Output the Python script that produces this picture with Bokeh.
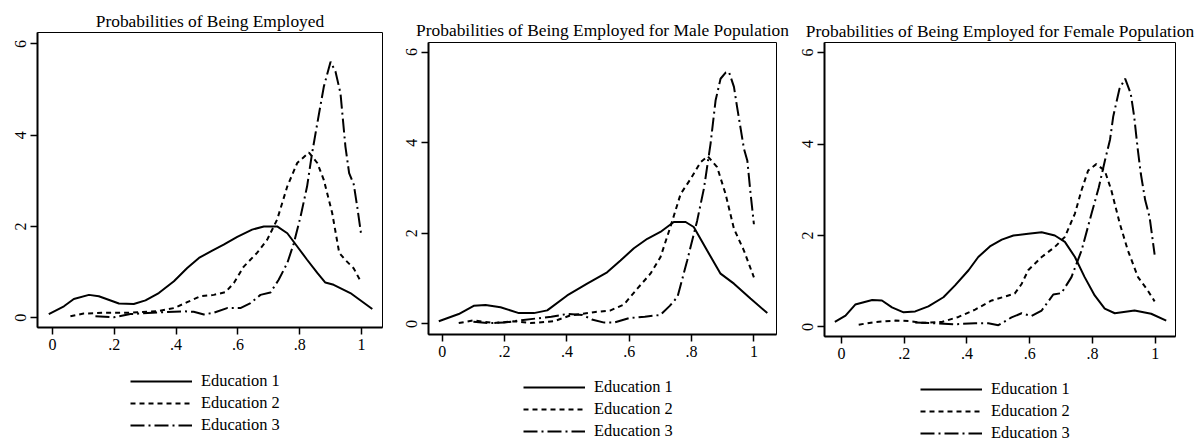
from bokeh.plotting import figure
from bokeh.layouts import row, column
from bokeh.models import FixedTicker, Legend, LegendItem, Range1d
from bokeh.embed import file_html
from bokeh.resources import INLINE

FONT = "Liberation Serif"

# ---------------- data ----------------
x_ticks = [0, 0.2, 0.4, 0.6, 0.8, 1]
x_tick_labels = ["0", ".2", ".4", ".6", ".8", "1"]
y_ticks = [0, 2, 4, 6]
y_tick_labels = ["0", "2", "4", "6"]
series_labels = ["Education 1", "Education 2", "Education 3"]
titles = ["Probabilities of Being Employed",
          "Probabilities of Being Employed for Male Population",
          "Probabilities of Being Employed for Female Population"]

# Panel 1: all
all_e1_x = [-0.012, 0.037, 0.069, 0.118, 0.150, 0.215, 0.263, 0.301, 0.344, 0.393, 0.436, 0.474, 0.517,
            0.554, 0.598, 0.646, 0.684, 0.727, 0.760, 0.792, 0.824, 0.857, 0.883, 0.910, 0.964, 1.035]
all_e1_y = [0.08, 0.25, 0.41, 0.50, 0.47, 0.31, 0.30, 0.38, 0.54, 0.80, 1.09, 1.31, 1.47,
            1.60, 1.77, 1.93, 2.00, 2.00, 1.85, 1.56, 1.27, 0.98, 0.77, 0.72, 0.54, 0.19]
all_e2_x = [0.058, 0.101, 0.166, 0.252, 0.339, 0.393, 0.436, 0.479, 0.522, 0.560, 0.587, 0.619, 0.662,
            0.695, 0.727, 0.760, 0.792, 0.830, 0.857, 0.878, 0.905, 0.928, 0.950, 0.975, 0.997]
all_e2_y = [0.03, 0.09, 0.11, 0.11, 0.14, 0.21, 0.34, 0.47, 0.50, 0.56, 0.76, 1.12, 1.42,
            1.71, 2.15, 2.88, 3.39, 3.62, 3.39, 3.02, 2.30, 1.42, 1.25, 1.08, 0.80]
all_e3_x = [0.139, 0.198, 0.252, 0.360, 0.425, 0.457, 0.490, 0.522, 0.565, 0.608, 0.641, 0.673, 0.705,
            0.732, 0.760, 0.781, 0.803, 0.824, 0.840, 0.857, 0.878, 0.900, 0.916, 0.932, 0.948, 0.960,
            0.975, 0.986, 0.999]
all_e3_y = [0.03, 0.01, 0.08, 0.12, 0.14, 0.13, 0.07, 0.11, 0.21, 0.21, 0.32, 0.50, 0.55,
            0.83, 1.20, 1.63, 2.22, 2.88, 3.60, 4.26, 5.06, 5.61, 5.39, 4.92, 3.75, 3.17,
            2.92, 2.44, 1.82]

# Panel 2: male
male_e1_x = [-0.011, 0.053, 0.101, 0.139, 0.187, 0.246, 0.294, 0.337, 0.401, 0.465, 0.529, 0.572,
             0.615, 0.658, 0.700, 0.743, 0.781, 0.807, 0.850, 0.893, 0.936, 0.989, 1.043]
male_e1_y = [0.06, 0.22, 0.40, 0.42, 0.37, 0.24, 0.24, 0.30, 0.63, 0.89, 1.14, 1.40,
             1.67, 1.88, 2.03, 2.25, 2.25, 2.14, 1.62, 1.11, 0.89, 0.56, 0.24]
male_e2_x = [0.053, 0.101, 0.166, 0.230, 0.283, 0.358, 0.412, 0.486, 0.540, 0.583, 0.626, 0.668,
             0.700, 0.732, 0.765, 0.797, 0.829, 0.852, 0.882, 0.909, 0.936, 0.968, 1.000]
male_e2_y = [0.02, 0.08, 0.02, 0.06, 0.02, 0.06, 0.19, 0.26, 0.30, 0.43, 0.78, 1.11,
             1.47, 2.14, 2.87, 3.20, 3.57, 3.70, 3.46, 2.87, 2.10, 1.62, 1.03]
male_e3_x = [0.100, 0.150, 0.200, 0.250, 0.300, 0.350, 0.400, 0.450, 0.480, 0.520, 0.550, 0.600,
             0.650, 0.700, 0.730, 0.755, 0.786, 0.818, 0.840, 0.861, 0.877, 0.893, 0.910, 0.920,
             0.936, 0.946, 0.968, 0.979, 0.989, 1.000]
male_e3_y = [0.05, 0.02, 0.03, 0.08, 0.12, 0.16, 0.22, 0.20, 0.10, 0.03, 0.03, 0.13,
             0.16, 0.20, 0.40, 0.60, 1.40, 2.28, 3.00, 3.98, 4.93, 5.41, 5.55, 5.56,
             5.23, 4.79, 3.87, 3.60, 2.90, 2.20]

# Panel 3: female
fem_e1_x = [-0.021, 0.013, 0.044, 0.098, 0.129, 0.161, 0.198, 0.235, 0.277, 0.325, 0.362, 0.405,
            0.436, 0.473, 0.511, 0.548, 0.595, 0.638, 0.680, 0.712, 0.744, 0.775, 0.807, 0.839,
            0.871, 0.934, 0.987, 1.035]
fem_e1_y = [0.11, 0.25, 0.49, 0.59, 0.58, 0.43, 0.32, 0.34, 0.45, 0.65, 0.91, 1.24,
            1.53, 1.76, 1.91, 2.00, 2.04, 2.07, 2.00, 1.86, 1.53, 1.09, 0.69, 0.40,
            0.30, 0.36, 0.29, 0.14]
fem_e2_x = [0.055, 0.108, 0.172, 0.214, 0.256, 0.320, 0.373, 0.426, 0.479, 0.552, 0.574, 0.595,
            0.638, 0.680, 0.712, 0.744, 0.765, 0.786, 0.812, 0.839, 0.860, 0.887, 0.913, 0.945,
            0.976, 0.998]
fem_e2_y = [0.05, 0.11, 0.14, 0.13, 0.09, 0.11, 0.22, 0.38, 0.58, 0.73, 0.94, 1.24,
            1.53, 1.75, 1.97, 2.48, 2.99, 3.42, 3.56, 3.42, 2.99, 2.26, 1.67, 1.09,
            0.80, 0.56]
fem_e3_x = [0.235, 0.299, 0.362, 0.426, 0.468, 0.500, 0.542, 0.574, 0.606, 0.638, 0.675, 0.701,
            0.733, 0.765, 0.797, 0.820, 0.840, 0.856, 0.866, 0.886, 0.904, 0.922, 0.933, 0.944,
            0.954, 0.968, 0.982, 0.998]
fem_e3_y = [0.10, 0.08, 0.06, 0.08, 0.08, 0.04, 0.21, 0.30, 0.24, 0.36, 0.71, 0.74,
            1.09, 1.67, 2.48, 3.05, 3.65, 4.10, 4.60, 5.21, 5.43, 5.10, 4.59, 3.90,
            3.35, 2.77, 2.40, 1.58]

panel_series = [
    [(all_e1_x, all_e1_y), (all_e2_x, all_e2_y), (all_e3_x, all_e3_y)],
    [(male_e1_x, male_e1_y), (male_e2_x, male_e2_y), (male_e3_x, male_e3_y)],
    [(fem_e1_x, fem_e1_y), (fem_e2_x, fem_e2_y), (fem_e3_x, fem_e3_y)],
]

# ---------------- layout / styles ----------------
TOTAL_H = 441
dashes = ["solid", "5 4", "14 4 2 4"]
panel_layout = [
    dict(width=398, plot_h=360, borders=(37, 16, 32, 33), xr=(-0.0485, 1.068), yr=(-0.215, 6.25),
         legend_loc=(93, 6), title_standoff=4),
    dict(width=397, plot_h=366, borders=(30, 19, 42, 32), xr=(-0.044, 1.0725), yr=(-0.232, 6.21),
         legend_loc=(95, 0), title_standoff=6),
    dict(width=403, plot_h=368, borders=(29, 23, 42, 32), xr=(-0.054, 1.0645), yr=(-0.208, 6.22),
         legend_loc=(96, -2), title_standoff=3),
]


def make_panel(title, series, cfg):
    bl, br, bt, bb = cfg["borders"]
    p = figure(width=cfg["width"], height=cfg["plot_h"], output_backend="svg", toolbar_location=None,
               x_range=Range1d(*cfg["xr"]), y_range=Range1d(*cfg["yr"]),
               min_border_left=bl, min_border_right=br, min_border_top=bt, min_border_bottom=bb)
    p.title.text = title
    p.title.align = "center"
    p.title.text_font = FONT
    p.title.text_font_size = "17.4px"
    p.title.text_font_style = "normal"
    p.title.text_color = "black"
    p.title.standoff = cfg["title_standoff"]

    p.grid.visible = False
    p.outline_line_color = "black"
    p.outline_line_width = 1
    p.outline_line_alpha = 1
    p.background_fill_color = "white"
    p.border_fill_color = "white"

    p.xaxis.ticker = FixedTicker(ticks=x_ticks)
    p.xaxis.major_label_overrides = {t: l for t, l in zip(x_ticks, x_tick_labels)}
    p.yaxis.ticker = FixedTicker(ticks=y_ticks)
    p.yaxis.major_label_overrides = {t: l for t, l in zip(y_ticks, y_tick_labels)}
    p.yaxis.major_label_orientation = "vertical"
    for ax in (p.xaxis, p.yaxis):
        ax.axis_line_width = 2
        ax.axis_line_color = "black"
        ax.major_tick_in = 0
        ax.major_tick_out = 7
        ax.major_tick_line_width = 1.5
        ax.major_tick_line_color = "black"
        ax.minor_tick_out = 0
        ax.minor_tick_in = 0
        ax.major_label_text_font = FONT
        ax.major_label_text_font_size = "16px"
        ax.major_label_text_color = "black"
    p.xaxis.major_label_standoff = 4
    p.yaxis.major_label_standoff = 4

    for (xs, ys), dash in zip(series, dashes):
        p.line(xs, ys, line_color="black", line_width=2, line_dash=dash)

    # legend strip under the plot: the same series are drawn there but its
    # y range lies far above the data, so only the legend keys show
    lg = figure(width=cfg["width"], height=TOTAL_H - cfg["plot_h"], output_backend="svg",
                toolbar_location=None, x_range=Range1d(0, 1), y_range=Range1d(100, 101),
                min_border=0, outline_line_color=None)
    lg.axis.visible = False
    lg.grid.visible = False
    items = []
    for (xs, ys), dash, lab in zip(series, dashes, series_labels):
        r = lg.line(xs, ys, line_color="black", line_width=2, line_dash=dash)
        items.append(LegendItem(label=lab, renderers=[r]))
    legend = Legend(items=items, location=cfg["legend_loc"], orientation="vertical",
                    glyph_width=62, glyph_height=20, label_height=20, label_standoff=9,
                    spacing=2, padding=0, margin=0, border_line_alpha=0,
                    background_fill_alpha=0, label_text_font=FONT,
                    label_text_font_size="16.4px", label_text_color="black")
    lg.add_layout(legend)
    return column(p, lg, spacing=0)


cols = [make_panel(t, s, c) for t, s, c in zip(titles, panel_series, panel_layout)]
layout = row(*cols, spacing=0)
open("out.html", "w").write(file_html(layout, INLINE))
